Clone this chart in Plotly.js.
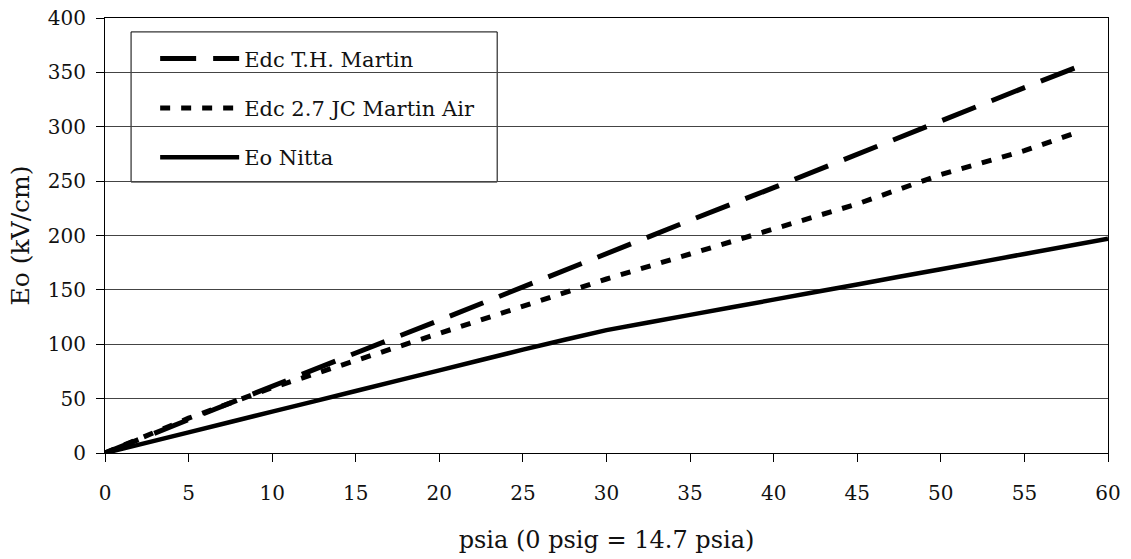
<!DOCTYPE html>
<html>
<head>
<meta charset="utf-8">
<script src="https://cdn.plot.ly/plotly-3.0.1.min.js"></script>
<style>html,body{margin:0;padding:0;background:#fff;}#chart{width:1131px;height:559px;}</style>
</head>
<body>
<div id="chart"></div>
<script>
// Data
const seriesNames = ["Edc T.H. Martin", "Edc 2.7 JC Martin Air", "Eo Nitta"];
const xMartin = [0, 5, 10, 15, 20, 25, 30, 35, 40, 45, 50, 55, 58];
const yTHMartin = [0, 31, 61, 92, 122, 153, 183, 214, 244, 275, 305, 336, 354];
const yJCMartin = [0, 32, 60, 85, 111, 136, 160, 183, 206, 229, 256, 278, 294];
const xNitta = [0, 5, 10, 15, 20, 25, 30, 35, 40, 45, 50, 55, 60];
const yNitta = [0, 19, 38, 57, 76, 95, 113, 127, 141, 155, 169, 183, 197];
const xTicks = [0, 5, 10, 15, 20, 25, 30, 35, 40, 45, 50, 55, 60];
const yTicks = [0, 50, 100, 150, 200, 250, 300, 350, 400];

const serif = "DejaVu Serif";

const traces = [
  {x: xMartin, y: yTHMartin, name: seriesNames[0], mode: "lines", legendgroup: "a",
   line: {color: "#000", width: 5, dash: "36px,17px"}},
  {x: xMartin, y: yJCMartin, name: seriesNames[1], mode: "lines", legendgroup: "b",
   line: {color: "#000", width: 5, dash: "10px,11px"}},
  {x: xNitta, y: yNitta, name: seriesNames[2], mode: "lines", legendgroup: "c",
   line: {color: "#000", width: 4.5, shape: "spline", smoothing: 0.3}}
];

const layout = {
  width: 1131, height: 559,
  margin: {l: 105, r: 23, t: 18, b: 106},
  paper_bgcolor: "#fff", plot_bgcolor: "#fff",
  font: {family: serif, color: "#000", size: 20},
  showlegend: true,
  legend: {
    x: 0.050, y: 0.953, xanchor: "left", yanchor: "top",
    bgcolor: "rgba(0,0,0,0)", borderwidth: 0,
    font: {family: serif, size: 21, color: "#111"},
    itemwidth: 79, tracegroupgap: 19, traceorder: "grouped"
  },
  shapes: [
    {type: "rect", xref: "paper", yref: "paper", x0: 0.026, x1: 0.391, y0: 0.623, y1: 0.968,
     line: {color: "#000", width: 1}, fillcolor: "#fff", layer: "below"}
  ],
  xaxis: {
    range: [0, 60], tickmode: "array", tickvals: xTicks,
    ticks: "outside", ticklen: 8, tickcolor: "#000", tickwidth: 1,
    ticklabelstandoff: 14,
    showline: true, linecolor: "#000", linewidth: 1, mirror: true,
    showgrid: false, zeroline: false,
    tickfont: {family: serif, size: 20, color: "#111"},
    title: {text: "psia (0 psig = 14.7 psia)", font: {family: serif, size: 24, color: "#111"}, standoff: 27}
  },
  yaxis: {
    range: [0, 400], tickmode: "array", tickvals: yTicks,
    ticks: "outside", ticklen: 8, tickcolor: "#000", tickwidth: 1,
    ticklabelstandoff: 6,
    showline: true, linecolor: "#000", linewidth: 1, mirror: true,
    showgrid: true, gridcolor: "#444", gridwidth: 1, zeroline: false,
    tickfont: {family: serif, size: 20, color: "#111"},
    title: {text: "Eo (kV/cm)", font: {family: serif, size: 25, color: "#111"}, standoff: 11}
  }
};

Plotly.newPlot("chart", traces, layout, {displayModeBar: false, staticPlot: true});
</script>
</body>
</html>
